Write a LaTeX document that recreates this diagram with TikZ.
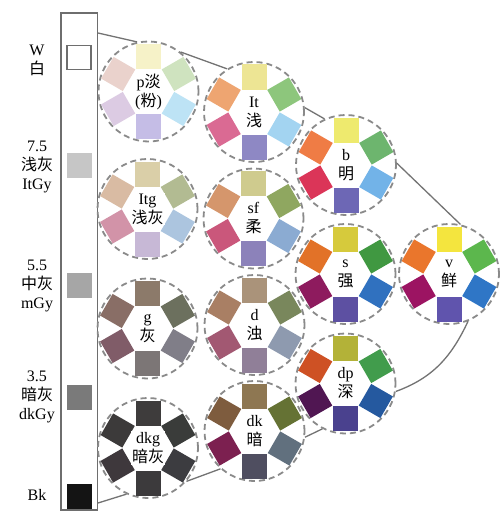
\documentclass[tikz,border=0pt]{standalone}
\usepackage{fontspec}
\setmainfont{Liberation Serif}
\newfontfamily\cjk{Noto Sans CJK SC}
\usetikzlibrary{calc}
\definecolor{ringgray}{HTML}{8A8A8A}
\definecolor{linegray}{HTML}{737373}
\definecolor{bargray}{HTML}{6E6E6E}
\definecolor{g75}{HTML}{C6C6C6}
\definecolor{g55}{HTML}{A6A6A6}
\definecolor{g35}{HTML}{7A7A7A}
\definecolor{gBk}{HTML}{141414}
\newcommand\tone[9]{%
  \definecolor{#1c1}{HTML}{#4}\definecolor{#1c2}{HTML}{#5}\definecolor{#1c3}{HTML}{#6}%
  \definecolor{#1c4}{HTML}{#7}\definecolor{#1c5}{HTML}{#8}\definecolor{#1c6}{HTML}{#9}%
  \node[ring] (#1) at (#2) {};
  \node[sq, fill=#1c1] (#1-t) at ($(#1)+(0,-35)$) {};
  \node[sq, fill=#1c2, rotate=30] (#1-ur) at ($(#1)+(30.3,-17.5)$) {};
  \node[sq, fill=#1c3, rotate=-30] (#1-lr) at ($(#1)+(30.3,17.5)$) {};
  \node[sq, fill=#1c4] (#1-b) at ($(#1)+(0,35)$) {};
  \node[sq, fill=#1c5, rotate=30] (#1-ll) at ($(#1)+(-30.3,17.5)$) {};
  \node[sq, fill=#1c6, rotate=-30] (#1-ul) at ($(#1)+(-30.3,-17.5)$) {};
  \node[lbl] (#1-l) at (#1) {#3};
}
\begin{document}
\begin{tikzpicture}[x=1pt,y=-1pt,
  ring/.style={circle, minimum size=100pt, inner sep=0pt, draw=ringgray, line width=1.8pt, dash pattern=on 6pt off 4pt},
  sq/.style={rectangle, minimum size=25pt, inner sep=0pt, draw=none},
  lbl/.style={font=\fontsize{16}{19}\selectfont, align=center, fill=white, inner sep=1pt},
  side/.style={font=\fontsize{16}{19}\selectfont, align=center, inner sep=0pt},
  conn/.style={draw=linegray, line width=1.3pt},
  barsq/.style={rectangle, minimum size=25pt, inner sep=0pt}]
\useasboundingbox (0,0) rectangle (500,527);
\fill[white] (0,0) rectangle (500,527);
% grey scale bar
\node[draw=bargray, line width=1.5pt, minimum width=36.5pt, minimum height=497pt, inner sep=0pt] (bar) at (79.25,261.5) {};
\node[barsq, draw=bargray, line width=1.5pt, fill=white, minimum size=24pt] (sqW) at (79,57.5) {};
\node[barsq, fill=g75] (sq75) at (79.5,165) {};
\node[barsq, fill=g55] (sq55) at (79.5,285.5) {};
\node[barsq, fill=g35] (sq35) at (79.5,397.5) {};
\node[barsq, fill=gBk] (sqBk) at (79,496) {};
\node[side] (tW) at (37,60) {W\\{\cjk 白}};
\node[side] (t75) at (37,167) {7.5\\{\cjk 浅灰}\\ItGy};
\node[side] (t55) at (37,286) {5.5\\{\cjk 中灰}\\mGy};
\node[side] (t35) at (37,397) {3.5\\{\cjk 暗灰}\\dkGy};
\node[side] (tBk) at (37,495) {Bk};
% tone circles
\tone{p}{148.5,91.5}{p{\cjk 淡}\\({\cjk 粉})}{F6F2C8}{CFE3BF}{BDE3F5}{C5BDE6}{DCCBE3}{EAD2CC}
\tone{lt}{254,112}{It\\{\cjk 浅}}{EDE594}{8DC67C}{A3D4F1}{8E88C4}{DA6A93}{EEA571}
\tone{b}{346,165}{b\\{\cjk 明}}{EEEA6E}{6DB56E}{72B3E8}{6D67B5}{DB3558}{EF7C45}
\tone{ltg}{147.5,209}{Itg\\{\cjk 浅灰}}{DACFA8}{B2BB92}{ACC5DF}{C7B8D6}{D293A8}{D9BBA3}
\tone{sf}{253.5,218.5}{sf\\{\cjk 柔}}{CFCB8E}{8FA760}{8BABD2}{8C82BA}{CA577B}{D5966C}
\tone{s}{345.5,274}{s\\{\cjk 强}}{D6CA3C}{409841}{3071BF}{5D50A2}{8E1B5E}{E27228}
\tone{v}{449,274}{v\\{\cjk 鲜}}{F4E53E}{5CB74D}{2F76C6}{6054AD}{9C1462}{EA762C}
\tone{g}{147.5,328.5}{g\\{\cjk 灰}}{8C7A6A}{6C705E}{807E88}{7C7676}{805C68}{896E66}
\tone{d}{254.5,325}{d\\{\cjk 浊}}{AA937A}{79875C}{8E9AAF}{907F98}{A25872}{A97F64}
\tone{dp}{345.5,383.5}{dp\\{\cjk 深}}{B3B238}{419C4C}{25599F}{4A418E}{501652}{CE5124}
\tone{dkg}{148,448}{dkg\\{\cjk 暗灰}}{3E3C3C}{3A3C3A}{3C3C40}{3C3A3C}{3E383C}{3C3A3A}
\tone{dk}{254.5,431}{dk\\{\cjk 暗}}{8E7752}{657234}{61707E}{4F4E60}{7C2050}{7E5C3E}
% envelope connectors
\coordinate (bartop) at (98,33);
\coordinate (barbot) at (98,503);
\draw[conn] (bartop) -- (p.103);
\draw[conn] (p.51) -- (lt.122);
\draw[conn] (lt.5) -- (b.115);
\draw[conn] (b.2) -- (v.77);
\draw[conn] (v.-68) to[out=-115, in=20] (dp.-9);
\draw[conn] (dp.-117) -- (dk.-7);
\draw[conn] (dk.-132) -- (dkg.-41);
\draw[conn] (dkg.-115) -- (barbot);
\end{tikzpicture}
\end{document}
